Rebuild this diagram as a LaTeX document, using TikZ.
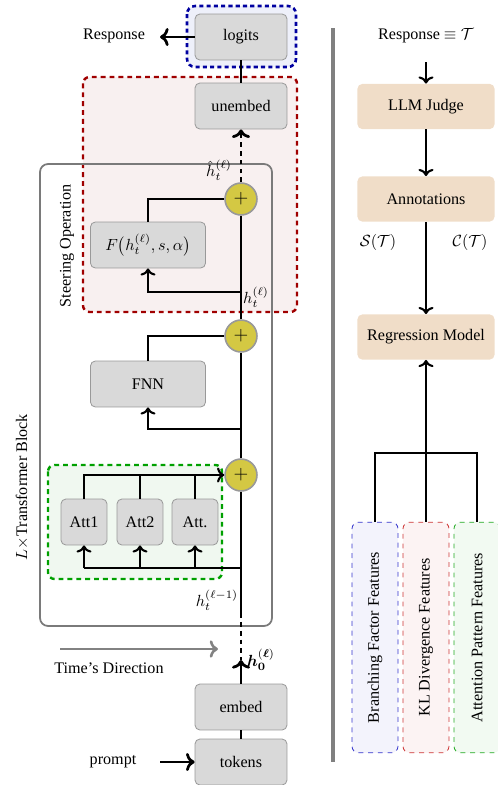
\documentclass[tikz,border=0pt]{standalone}
\usepackage{amsmath,amssymb,bm}
\usepackage{fontspec}
\setmainfont{Liberation Serif}
\usetikzlibrary{arrows.meta,calc,backgrounds}

\definecolor{boxgray}{HTML}{D9D9D9}
\definecolor{edgegray}{HTML}{999999}
\definecolor{plusyellow}{HTML}{D4C843}
\definecolor{judgetan}{HTML}{F0DDC8}
\definecolor{logitblue}{HTML}{0000A0}
\definecolor{logitfill}{HTML}{EEF0FA}
\definecolor{steerred}{HTML}{A00000}
\definecolor{steerfill}{HTML}{F8F0F0}
\definecolor{attgreen}{HTML}{00A000}
\definecolor{attfill}{HTML}{F0F8F0}
\definecolor{featblue}{HTML}{3333CC}
\definecolor{featred}{HTML}{CC3333}
\definecolor{featgreen}{HTML}{22AA22}

\tikzset{
  block/.style={draw=edgegray, fill=boxgray, rounded corners=3pt, line width=0.5pt,
    minimum width=57pt, minimum height=28.5pt, inner sep=0pt},
  wideblock/.style={block, minimum width=71.3pt},
  attblock/.style={block, minimum width=28.5pt},
  judgebox/.style={fill=judgetan, rounded corners=3pt, minimum width=85pt,
    minimum height=28pt, inner sep=0pt},
  plusnode/.style={circle, draw=edgegray, fill=plusyellow, line width=1pt,
    minimum size=19.8pt, inner sep=0pt, font=\large},
  featbox/.style={dashed, rounded corners=4pt, line width=0.5pt, minimum width=28.5pt,
    minimum height=143pt, inner sep=0pt},
  resid/.style={line width=1.7pt},
  wire/.style={line width=1.3pt},
}

\begin{document}
\begin{tikzpicture}[x=0.62pt,y=-0.62pt]
\useasboundingbox (0,0) rectangle (497,785);

% containers
\draw[logitblue, fill=logitfill, line width=1.6pt, dash pattern=on 2.5pt off 2pt, rounded corners=5pt]
  (187,6) rectangle (296,67);
\draw[steerred, fill=steerfill, line width=1.5pt, dash pattern=on 3pt off 2.5pt, rounded corners=4pt]
  (83,77) rectangle (297,312);
\draw[edgegray!80!black, line width=1.1pt, rounded corners=5pt] (40,164) rectangle (272,626);
\draw[attgreen, fill=attfill, line width=1.5pt, dash pattern=on 3pt off 2.5pt, rounded corners=4pt]
  (48,465) rectangle (222,579);

\node[rotate=90] (steerlbl) at (67,246) {Steering Operation};
\node[rotate=90] (blocklbl) at (22,487) {$L\times$Transformer Block};

% left column
\node[block] (logits) at (241,37) {logits};
\node[block] (unembed) at (241,106) {unembed};
\node[plusnode] (plus1) at (241,199) {$+$};
\node[plusnode] (plus2) at (241,336) {$+$};
\node[plusnode] (plus3) at (241,475) {$+$};
\node[wideblock] (steer) at (148,245) {$F\big(h_t^{(\ell)}, s, \alpha\big)$};
\node[wideblock] (fnn) at (148,384) {FNN};
\node[attblock] (att1) at (84,522) {Att1};
\node[attblock] (att2) at (140,522) {Att2};
\node[attblock] (att3) at (195,522) {Att.};
\node[block] (embed) at (241,707) {embed};
\node[block] (tokens) at (241,762) {tokens};

\node (resp) at (114,36) {Response};
\node (prompt) at (113,762) {prompt};
\node (timelbl) at (109,668) {Time's Direction};

\coordinate (respend) at (160,37);
\coordinate (promptstart) at (160,762);
\coordinate (tapsteer) at (241,292);
\coordinate (tapfnn) at (241,429);
\coordinate (tapatt) at (241,568);
\coordinate (blockexit) at (241,613);
\coordinate (embedtip) at (241,660);
\coordinate (timestart) at (60,649);
\coordinate (timeend) at (218,649);

\node (hhat) at (219,170) {$\hat{h}_t^{(\ell)}$};
\node (hl) at (256,297) {$h_t^{(\ell)}$};
\node (hlm) at (217,600) {$h_t^{(\ell-1)}$};
\node (hzero) at (261,660) {$\bm{h}_{\bm{0}}^{(\bm{\ell})}$};

% residual stream
\draw[resid] (logits) -- (unembed);
\draw[resid,->] (logits.west) -- (respend);
\draw[resid,dash pattern=on 3pt off 2.5pt,->] (plus1.north) -- (unembed.south);
\draw[resid] (plus2) -- (plus1);
\draw[resid] (plus3) -- (plus2);
\draw[resid] (plus3.south) -- (blockexit);
\draw[resid,dash pattern=on 3pt off 2.5pt] (blockexit) -- (embedtip);
\draw[resid,->] (embed.north) -- (embedtip);
\draw[resid] (tokens) -- (embed);
\draw[resid,->] (promptstart) -- (tokens.west);

% branches
\draw[wire] (steer.north) |- (plus1.west);
\draw[wire,->] (tapsteer) -| (steer.south);
\draw[wire] (fnn.north) |- (plus2.west);
\draw[wire,->] (tapfnn) -| (fnn.south);
\draw[wire,->] (att1.north) |- (plus3.west);
\draw[wire] (att2.north) -- (att2.north |- plus3);
\draw[wire] (att3.north) -- (att3.north |- plus3);
\draw[wire] (tapatt) -- (att1.south |- tapatt);
\draw[wire,->] (att1.south |- tapatt) -- (att1.south);
\draw[wire,->] (att2.south |- tapatt) -- (att2.south);
\draw[wire,->] (att3.south |- tapatt) -- (att3.south);

\draw[edgegray!85!black, line width=1.6pt, ->] (timestart) -- (timeend);

% right column
\coordinate (septop) at (333,28);
\coordinate (sepbot) at (333,762);
\draw[gray, line width=2pt] (septop) -- (sepbot);

\node (resp2) at (426,36) {Response $\equiv \mathcal{T}$};
\coordinate (resp2end) at (426,62);
\node[judgebox] (judge) at (426,106.5) {LLM Judge};
\node[judgebox] (annot) at (426,199) {Annotations};
\node[judgebox] (regr) at (426,337) {Regression Model};
\node (slbl) at (378,242) {$\mathcal{S}(\mathcal{T})$};
\node (clbl) at (470,242) {$\mathcal{C}(\mathcal{T})$};

\node[featbox, draw=featblue, fill=featblue!6] (feat1) at (375,637.5)
  {\rotatebox{90}{Branching Factor Features}};
\node[featbox, draw=featred, fill=featred!6] (feat2) at (426,637.5)
  {\rotatebox{90}{KL Divergence Features}};
\node[featbox, draw=featgreen, fill=featgreen!6] (feat3) at (477,637.5)
  {\rotatebox{90}{Attention Pattern Features}};
\coordinate (merge) at (426,453);

\draw[wire,->] (resp2end) -- (judge.north);
\draw[wire,->] (judge) -- (annot);
\draw[wire,->] (annot) -- (regr);
\draw[wire,->] (merge) -- (regr);
\draw[wire] (feat1.north) |- (merge) -| (feat3.north);
\draw[wire] (feat2.north) -- (merge);
\end{tikzpicture}
\end{document}
